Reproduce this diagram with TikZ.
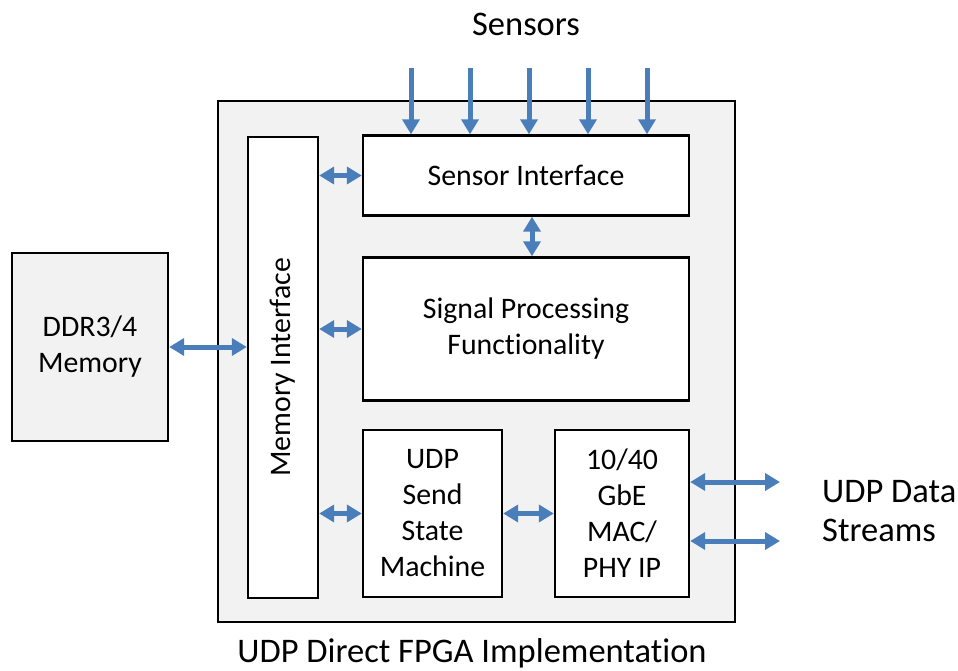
\documentclass[tikz,border=0pt]{standalone}
\usepackage{fontspec}
\setmainfont{Carlito}[Ligatures=NoCommon]
\usetikzlibrary{arrows.meta,positioning}
\definecolor{linkblue}{HTML}{4A7EBB}
\definecolor{chipgray}{HTML}{F2F2F2}

\begin{document}
\begin{tikzpicture}[x=1pt, y=-1pt,
      every node/.style={font=\fontsize{29.8pt}{36pt}\selectfont, inner sep=0pt},
      bigtxt/.style={font=\fontsize{34.5pt}{38.5pt}\selectfont},
      blk/.style={draw=black, line width=2.4pt, fill=white, align=center},
      link/.style={draw=linkblue, line width=5pt, -{Triangle[width=17pt,length=15pt]}},
      bilink/.style={link, {Triangle[width=17pt,length=15pt]}-{Triangle[width=17pt,length=15pt]}}]
    \useasboundingbox (0,0) rectangle (958,671);
    % chip boundary and the blocks inside it
    \node[blk, fill=chipgray, minimum width=517, minimum height=521] (fpga) at (476.5,361.5) {};
    \node[blk, minimum width=70, minimum height=461] (memif) at (283,367.5) {};
    \node[rotate=90] (memtxt) at (memif.center) {Memory Interface};
    \node[blk, minimum width=326, minimum height=80] (sensif) at (526,175.5) {Sensor Interface};
    \node[blk, minimum width=326, minimum height=143] (sigproc) at (526,329) {Signal Processing\\Functionality};
    \node[blk, minimum width=139, minimum height=167] (udpsm) at (432.5,513.5) {UDP\\Send\\State\\Machine};
    \node[blk, minimum width=134, minimum height=167] (mac) at (622,513.5) {10/40\\GbE\\MAC/\\PHY IP};
    \node[blk, fill=chipgray, minimum width=156, minimum height=188] (ddr) at (90,347) {DDR3/4\\Memory};

    \node[bigtxt] (sensorslbl) at (526,24) {Sensors};
    \node[bigtxt] (fpgalbl) at (472,653) {UDP Direct FPGA Implementation};
    \node[bigtxt, anchor=west, align=left] (udplbl) at (822,511) {UDP Data\\Streams};

    % sensor inputs
    \foreach \x/\n in {411/1, 470/2, 529/3, 588/4, 647/5} {
      \coordinate (sens\n) at (\x,68);
      \draw[link] (sens\n) -- (sens\n |- sensif.north);
    }
    \draw[bilink] ([xshift=6pt]sensif.south) -- ([xshift=6pt]sigproc.north);
    \draw[bilink] (memif.east |- sensif.west) -- (sensif.west);
    \draw[bilink] (memif.east |- sigproc.west) -- (sigproc.west);
    \draw[bilink] (memif.east |- udpsm.west) -- (udpsm.west);
    \draw[bilink] (udpsm.east) -- (mac.west);
    \draw[bilink] (ddr.east) -- (memif.west |- ddr.east);

    % UDP streams out
    \coordinate (out1) at (780,482);
    \coordinate (out2) at (780,541);
    \draw[bilink] (mac.east |- out1) -- (out1);
    \draw[bilink] (mac.east |- out2) -- (out2);
  \end{tikzpicture}
\end{document}
